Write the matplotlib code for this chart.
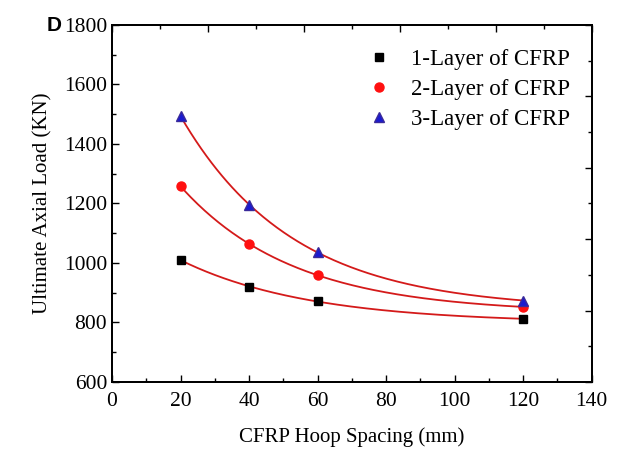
import numpy as np
import matplotlib
matplotlib.use("Agg")
import matplotlib.pyplot as plt
from matplotlib.ticker import MultipleLocator, NullFormatter

plt.rcParams["font.family"] = ["Liberation Serif", "DejaVu Serif"]

# ── Data ─────────────────────────────────────────────────────────────────────
spacing = [20, 40, 60, 120]
layer1 = [1010, 920, 872, 812]
layer2 = [1258, 1063, 960, 852]
layer3 = [1494, 1194, 1038, 873]
labels = ["1-Layer of CFRP", "2-Layer of CFRP", "3-Layer of CFRP"]

C_LINE = "#d41a1a"


def exp_fit(x, y):
    # y = y0 + A*exp(-x/t); grid search over t, linear least squares for y0, A
    x = np.asarray(x, float)
    y = np.asarray(y, float)
    best = None
    for t in np.linspace(5, 200, 2000):
        M = np.column_stack([np.ones_like(x), np.exp(-x / t)])
        coef, *_ = np.linalg.lstsq(M, y, rcond=None)
        err = np.sum((M @ coef - y) ** 2)
        if best is None or err < best[0]:
            best = (err, t, coef)
    _, t, (y0, A) = best
    return lambda xx: y0 + A * np.exp(-xx / t)


fig = plt.figure(figsize=(6.19, 4.54), dpi=100)
ax = fig.add_axes([0.181, 0.1586, 0.775, 0.7864])

xs = np.linspace(20, 120, 200)
for ys in (layer1, layer2, layer3):
    f = exp_fit(spacing, ys)
    ax.plot(xs, f(xs), color=C_LINE, lw=1.3, zorder=2)

ax.plot(spacing, layer1, "s", color="black", ms=6, ls="none", label=labels[0], zorder=3)
ax.plot(spacing, layer2, "o", color="#ff1010", ms=6.5, ls="none", label=labels[1], zorder=3)
ax.plot(spacing, layer3, "^", color="#1a1ad0", mec="#3a2a9a", ms=7, ls="none", label=labels[2], zorder=3)

ax.set_xlim(0, 140)
ax.set_ylim(600, 1800)
ax.xaxis.set_major_locator(MultipleLocator(20))
ax.xaxis.set_minor_locator(MultipleLocator(10))
ax.yaxis.set_major_locator(MultipleLocator(200))
ax.yaxis.set_minor_locator(MultipleLocator(100))
ax.tick_params(which="both", direction="in", labelsize=15.5)
ax.tick_params(which="major", length=5, width=1)
ax.tick_params(which="minor", length=3, width=1)
ax.tick_params(axis="x", pad=7)

ax.set_xlabel("CFRP Hoop Spacing (mm)", fontsize=15, labelpad=12)
ax.set_ylabel("Ultimate Axial Load (KN)", fontsize=15, labelpad=8)

# top and right axes carry their own unlabeled tick scale
top = ax.twiny()
right = ax.twinx()
for sec, axis in ((top, top.xaxis), (right, right.yaxis)):
    axis.set_major_locator(MultipleLocator(0.2))
    axis.set_minor_locator(MultipleLocator(0.1))
    axis.set_major_formatter(NullFormatter())
    sec.tick_params(which="both", direction="in")
    sec.tick_params(which="major", length=5, width=1)
    sec.tick_params(which="minor", length=3, width=1)
top.set_xlim(0, 1)
right.set_ylim(0, 1)

for a in (ax, top, right):
    for s in a.spines.values():
        s.set_linewidth(1.2)

ax.legend(loc="upper right", bbox_to_anchor=(0.997, 0.99), frameon=False,
          fontsize=16.5, handletextpad=0.6, labelspacing=0.38,
          handlelength=1.6, borderaxespad=0.5)

fig.text(0.075, 0.965, "D", fontsize=15, fontweight="bold",
         family="Liberation Sans", ha="left", va="top")

fig.savefig("out.png", dpi=100)
